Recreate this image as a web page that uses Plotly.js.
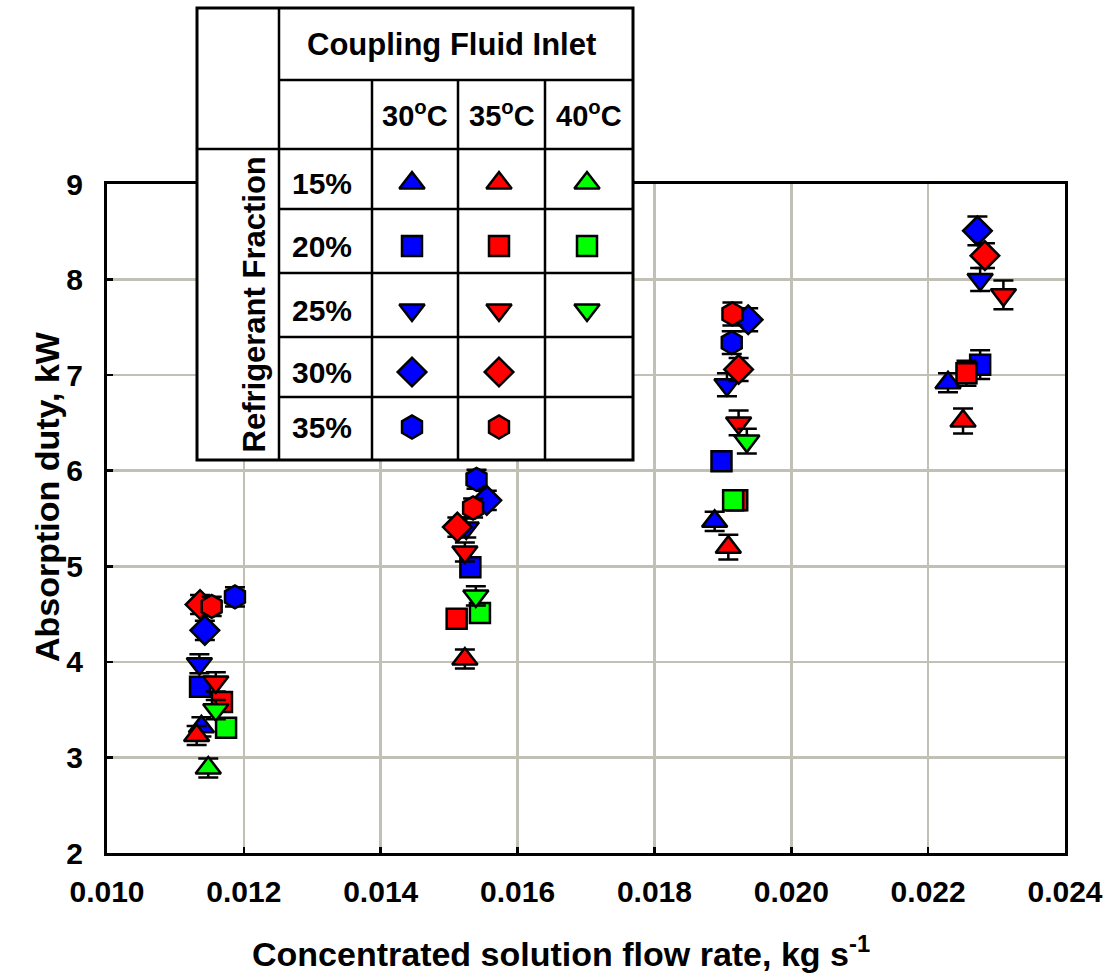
<!DOCTYPE html>
<html><head><meta charset="utf-8">
<script src="https://cdn.plot.ly/plotly-3.0.1.min.js"></script>
<style>html,body{margin:0;padding:0;background:#fff}#chart{width:1112px;height:979px}</style>
</head><body><div id="chart"></div>
<script>
// ---------------- data ----------------
const xTickVals = [0.010, 0.012, 0.014, 0.016, 0.018, 0.020, 0.022, 0.024];
const yTickVals = [2, 3, 4, 5, 6, 7, 8, 9];
const tempLabels = ['30<sup>o</sup>C', '35<sup>o</sup>C', '40<sup>o</sup>C'];
const fractionLabels = ['15%', '20%', '25%', '30%', '35%'];

// 30 °C coupling fluid (blue)
const b15_x = [0.01138, 0.01888, 0.02229];
const b15_y = [3.32, 5.47, 6.92];
const b15_e = [0.10, 0.10, 0.10];
const b20_x = [0.01136, 0.01531, 0.01898, 0.02276];
const b20_y = [3.74, 4.99, 6.10, 7.11];
const b20_e = [0.10, 0.10, 0.10, 0.15];
const b25_x = [0.01135, 0.01525, 0.01906, 0.02276];
const b25_y = [3.98, 5.40, 6.90, 8.00];
const b25_e = [0.10, 0.10, 0.12, 0.12];
const b30_x = [0.01143, 0.01555, 0.01937, 0.02272];
const b30_y = [4.33, 5.69, 7.58, 8.51];
const b30_e = [0.10, 0.10, 0.12, 0.15];
const b35_x = [0.01187, 0.01540, 0.01913];
const b35_y = [4.68, 5.91, 7.34];
const b35_e = [0.10, 0.10, 0.12];

// 35 °C coupling fluid (red)
const r15_x = [0.01131, 0.01523, 0.01908, 0.02251];
const r15_y = [3.23, 4.03, 5.20, 6.52];
const r15_e = [0.10, 0.10, 0.13, 0.13];
const r20_x = [0.01168, 0.01511, 0.01921, 0.02256];
const r20_y = [3.58, 4.45, 5.69, 7.02];
const r20_e = [0.10, 0.10, 0.10, 0.13];
const r25_x = [0.01159, 0.01523, 0.01923, 0.02310];
const r25_y = [3.79, 5.15, 6.50, 7.84];
const r25_e = [0.10, 0.10, 0.13, 0.15];
const r30_x = [0.01136, 0.01512, 0.01923, 0.02283];
const r30_y = [4.60, 5.41, 7.06, 8.25];
const r30_e = [0.10, 0.10, 0.12, 0.13];
const r35_x = [0.01153, 0.01535, 0.01914];
const r35_y = [4.58, 5.61, 7.64];
const r35_e = [0.10, 0.10, 0.12];

// 40 °C coupling fluid (green)
const g15_x = [0.01148];
const g15_y = [2.89];
const g15_e = [0.10];
const g20_x = [0.01174, 0.01545, 0.01915];
const g20_y = [3.31, 4.51, 5.69];
const g20_e = [0.10, 0.10, 0.10];
const g25_x = [0.01159, 0.01539, 0.01935];
const g25_y = [3.50, 4.69, 6.31];
const g25_e = [0.10, 0.10, 0.13];

// ---------------- styling / layout ----------------
const W = 1112, H = 979;
const plotL = 107, plotR = 1065, plotT = 184, plotB = 853;
const FONT = 'Liberation Sans, Arial, Helvetica, sans-serif';
const BLUE = '#0000ff', RED = '#ff0000', GREEN = '#00ff00';
const SYM = {15: 'triangle-up', 20: 'square', 25: 'triangle-down', 30: 'diamond', 35: 'hexagon'};
const SIZE = {'triangle-up': 22, 'square': 20, 'triangle-down': 22, 'diamond': 22, 'hexagon': 23};

function series(name, x, y, e, frac, color) {
  const sym = SYM[frac];
  return {
    type: 'scatter', mode: 'markers', name: name, x: x, y: y,
    error_y: {type: 'data', array: e, visible: true, color: '#000', thickness: 2.5, width: 10},
    marker: {symbol: sym, size: SIZE[sym], color: color, line: {color: '#000', width: 2.5}},
    showlegend: false, cliponaxis: false
  };
}

const traces = [
  series('30°C 15%', b15_x, b15_y, b15_e, 15, BLUE),
  series('30°C 20%', b20_x, b20_y, b20_e, 20, BLUE),
  series('30°C 25%', b25_x, b25_y, b25_e, 25, BLUE),
  series('30°C 30%', b30_x, b30_y, b30_e, 30, BLUE),
  series('30°C 35%', b35_x, b35_y, b35_e, 35, BLUE),
  series('35°C 15%', r15_x, r15_y, r15_e, 15, RED),
  series('35°C 20%', r20_x, r20_y, r20_e, 20, RED),
  series('35°C 25%', r25_x, r25_y, r25_e, 25, RED),
  series('35°C 30%', r30_x, r30_y, r30_e, 30, RED),
  series('35°C 35%', r35_x, r35_y, r35_e, 35, RED),
  series('40°C 15%', g15_x, g15_y, g15_e, 15, GREEN),
  series('40°C 20%', g20_x, g20_y, g20_e, 20, GREEN),
  series('40°C 25%', g25_x, g25_y, g25_e, 25, GREEN)
];

// ---------------- legend table (pixel coordinates on an overlay axis pair) ----------------
const cols = [197, 279, 372, 458, 545, 633];
const rows = [8, 80, 149, 209, 273, 337, 397, 460];
const symCols = [412, 499, 587];
const symRows = [183, 246, 310, 372, 427];
const tableColors = [BLUE, RED, GREEN];
const fracs = [15, 20, 25, 30, 35];

fracs.forEach(function (f, ri) {
  tableColors.forEach(function (c, ci) {
    if (ci === 2 && f >= 30) return;
    const sym = SYM[f];
    traces.push({
      type: 'scatter', mode: 'markers', xaxis: 'x2', yaxis: 'y2',
      x: [symCols[ci]], y: [symRows[ri]], hoverinfo: 'skip', showlegend: false,
      marker: {symbol: sym, size: SIZE[sym], color: c, line: {color: '#000', width: 2.5}}
    });
  });
});

const LW = 2.5;
function seg(x0, y0, x1, y1) {
  return {type: 'line', xref: 'x2', yref: 'y2', x0: x0, y0: y0, x1: x1, y1: y1,
          line: {color: '#000', width: LW}, layer: 'below'};
}
const shapes = [
  {type: 'rect', xref: 'x2', yref: 'y2', x0: cols[0], x1: cols[5], y0: rows[0], y1: rows[7],
   fillcolor: '#ffffff', line: {color: '#000', width: 3}, layer: 'below'},
  seg(cols[1], rows[0], cols[1], rows[7]),
  seg(cols[1], rows[1], cols[5], rows[1]),
  seg(cols[0], rows[2], cols[5], rows[2])
];
for (let i = 3; i <= 6; i++) shapes.push(seg(cols[1], rows[i], cols[5], rows[i]));
for (let j = 2; j <= 4; j++) shapes.push(seg(cols[j], rows[1], cols[j], rows[7]));

const tf = function (s) { return {family: FONT, size: s, color: '#000', weight: 'bold'}; };
const annotations = [
  {xref: 'x2', yref: 'y2', x: (cols[1] + cols[5]) / 2 - 5, y: 44, text: 'Coupling Fluid Inlet',
   showarrow: false, font: tf(31), xanchor: 'center', yanchor: 'middle'},
  {xref: 'x2', yref: 'y2', x: 254, y: (rows[2] + rows[7]) / 2, text: 'Refrigerant Fraction',
   showarrow: false, font: tf(31), textangle: -90, xanchor: 'center', yanchor: 'middle'},
  {xref: 'x2', yref: 'y2', x: 47, y: 497, text: 'Absorption duty, kW',
   showarrow: false, font: tf(34), textangle: -90, xanchor: 'center', yanchor: 'middle'},
  {xref: 'x2', yref: 'y2', x: 561, y: 951, text: 'Concentrated solution flow rate, kg s<sup>-1</sup>',
   showarrow: false, font: tf(34), xanchor: 'center', yanchor: 'middle'}
];
tempLabels.forEach(function (t, i) {
  annotations.push({xref: 'x2', yref: 'y2', x: (cols[i + 2] + cols[i + 3]) / 2, y: 114, text: t,
    showarrow: false, font: tf(29), xanchor: 'center', yanchor: 'middle'});
});
fractionLabels.forEach(function (t, i) {
  annotations.push({xref: 'x2', yref: 'y2', x: (cols[1] + cols[2]) / 2 - 4, y: symRows[i], text: t,
    showarrow: false, font: tf(30), xanchor: 'center', yanchor: 'middle'});
});

const axisCommon = {
  showgrid: true, gridcolor: '#c0c0b4', gridwidth: 2.5,
  showline: true, linecolor: '#000', linewidth: 3, mirror: true,
  ticks: 'inside', ticklen: 6, tickwidth: 2.5, tickcolor: '#000',
  zeroline: false, tickfont: tf(30), fixedrange: true
};

const layout = {
  width: W, height: H,
  margin: {l: 0, r: 0, t: 0, b: 0},
  paper_bgcolor: '#ffffff', plot_bgcolor: 'rgba(0,0,0,0)',
  showlegend: false,
  xaxis: Object.assign({}, axisCommon, {
    domain: [plotL / W, plotR / W], range: [0.010, 0.024],
    tickvals: xTickVals, tickformat: '.3f', anchor: 'y', ticklabelstandoff: 10
  }),
  yaxis: Object.assign({}, axisCommon, {
    domain: [1 - plotB / H, 1 - plotT / H], range: [2, 9],
    tickvals: yTickVals, anchor: 'x', ticklabelstandoff: 15
  }),
  xaxis2: {domain: [0, 1], range: [0, W], visible: false, anchor: 'y2', fixedrange: true},
  yaxis2: {domain: [0, 1], range: [H, 0], visible: false, anchor: 'x2', fixedrange: true},
  shapes: shapes,
  annotations: annotations
};

Plotly.newPlot('chart', traces, layout, {displayModeBar: false, staticPlot: true});
</script>
</body></html>
